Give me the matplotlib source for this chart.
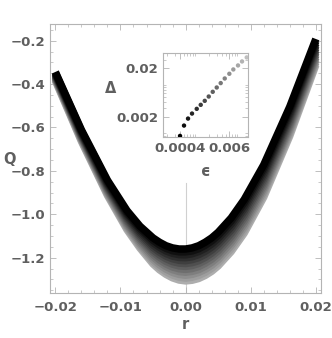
import matplotlib
matplotlib.use('Agg')
import matplotlib.pyplot as plt
from matplotlib.ticker import MultipleLocator, FixedLocator, NullFormatter

# r samples shared by every curve
r_vals = [-0.02, -0.016, -0.012, -0.009, -0.007, -0.005, -0.004, -0.003, -0.002, -0.001, 0.0,
          0.001, 0.002, 0.003, 0.004, 0.005, 0.007, 0.009, 0.012, 0.016, 0.02]

# Q of the 12 curves (darkest/top first) at each r sample
q_at_r = [
    [-0.344, -0.348, -0.351, -0.355, -0.358, -0.362, -0.366, -0.369, -0.373, -0.376, -0.380, -0.384],
    [-0.611, -0.616, -0.621, -0.625, -0.630, -0.635, -0.640, -0.645, -0.649, -0.654, -0.659, -0.664],
    [-0.843, -0.849, -0.856, -0.862, -0.869, -0.875, -0.881, -0.888, -0.894, -0.901, -0.907, -0.913],
    [-0.983, -0.991, -0.999, -1.007, -1.015, -1.023, -1.031, -1.039, -1.047, -1.055, -1.063, -1.071],
    [-1.055, -1.064, -1.073, -1.083, -1.092, -1.101, -1.110, -1.119, -1.129, -1.138, -1.147, -1.156],
    [-1.109, -1.120, -1.131, -1.142, -1.153, -1.164, -1.174, -1.185, -1.196, -1.207, -1.218, -1.229],
    [-1.129, -1.141, -1.152, -1.164, -1.175, -1.187, -1.198, -1.210, -1.221, -1.233, -1.244, -1.256],
    [-1.145, -1.157, -1.169, -1.181, -1.193, -1.205, -1.217, -1.229, -1.241, -1.253, -1.265, -1.277],
    [-1.155, -1.168, -1.180, -1.193, -1.205, -1.218, -1.230, -1.243, -1.255, -1.268, -1.280, -1.293],
    [-1.160, -1.173, -1.186, -1.199, -1.212, -1.225, -1.238, -1.251, -1.264, -1.277, -1.290, -1.303],
    [-1.160, -1.173, -1.187, -1.200, -1.214, -1.227, -1.240, -1.254, -1.267, -1.281, -1.294, -1.307],
    [-1.155, -1.169, -1.182, -1.196, -1.209, -1.223, -1.236, -1.250, -1.263, -1.277, -1.290, -1.304],
    [-1.145, -1.159, -1.172, -1.186, -1.200, -1.214, -1.227, -1.241, -1.255, -1.268, -1.282, -1.296],
    [-1.129, -1.143, -1.157, -1.171, -1.185, -1.199, -1.212, -1.226, -1.240, -1.254, -1.268, -1.282],
    [-1.109, -1.123, -1.137, -1.151, -1.165, -1.179, -1.193, -1.207, -1.221, -1.235, -1.249, -1.263],
    [-1.083, -1.097, -1.111, -1.125, -1.139, -1.154, -1.168, -1.182, -1.196, -1.210, -1.224, -1.238],
    [-1.017, -1.031, -1.045, -1.059, -1.073, -1.088, -1.102, -1.116, -1.130, -1.144, -1.158, -1.172],
    [-0.932, -0.946, -0.960, -0.974, -0.988, -1.003, -1.017, -1.031, -1.045, -1.059, -1.073, -1.087],
    [-0.772, -0.786, -0.799, -0.813, -0.826, -0.840, -0.853, -0.867, -0.880, -0.894, -0.907, -0.921],
    [-0.504, -0.516, -0.529, -0.541, -0.553, -0.566, -0.578, -0.590, -0.602, -0.615, -0.627, -0.639],
    [-0.192, -0.203, -0.214, -0.225, -0.236, -0.247, -0.257, -0.268, -0.279, -0.290, -0.301, -0.312],
]

# inset: Delta vs epsilon (log-log)
eps_vals = [0.00040, 0.000498, 0.000621, 0.000773, 0.001002, 0.001248, 0.001556,
            0.001937, 0.002415, 0.003006, 0.003742, 0.004667, 0.006012, 0.007485,
            0.009683, 0.01208, 0.01563]
delta_vals = [0.000798, 0.001304, 0.001818, 0.002306, 0.002884, 0.003488, 0.004218,
              0.005176, 0.006476, 0.007946, 0.009796, 0.01219, 0.01524, 0.01871,
              0.02264, 0.02736, 0.03311]

x_ticks = [-0.02, -0.01, 0.0, 0.01, 0.02]
y_ticks = [-1.2, -1.0, -0.8, -0.6, -0.4, -0.2]

frame_col = '#b4b4b4'
text_col = '#5f5f5f'
fsize = 9.5


def style_frame(ax):
    for s in ax.spines.values():
        s.set_color(frame_col)
        s.set_linewidth(0.8)
    ax.tick_params(which='both', direction='in', color=frame_col,
                   top=True, right=True, labelcolor=text_col, labelsize=fsize)
    ax.tick_params(which='major', length=4, width=0.6)
    ax.tick_params(which='minor', length=2, width=0.5)
    for lab in ax.get_xticklabels() + ax.get_yticklabels():
        lab.set_fontweight('bold')


fig = plt.figure(figsize=(3.32, 3.38), dpi=100)
ax = fig.add_axes([0.151, 0.133, 0.816, 0.796])

ax.axvline(0.0, ymin=0.0, ymax=0.41, color='#d0d0d0', linewidth=0.8, zorder=0)

curves = list(zip(*q_at_r))
n = len(curves)
for i in range(n - 1, -1, -1):
    g = 0.68 * i / (n - 1)
    ax.plot(r_vals, curves[i], color=(g, g, g), linewidth=5.4,
            solid_capstyle='butt', solid_joinstyle='round')

ax.set_xlim(-0.0208, 0.0208)
ax.set_ylim(-1.363, -0.123)
ax.xaxis.set_major_locator(FixedLocator(x_ticks))
ax.yaxis.set_major_locator(FixedLocator(y_ticks))
ax.xaxis.set_minor_locator(MultipleLocator(0.002))
ax.yaxis.set_minor_locator(MultipleLocator(0.05))
ax.set_xticklabels(['\u22120.02', '\u22120.01', '0.00', '0.01', '0.02'])
ax.set_yticklabels(['\u22121.2', '\u22121.0', '\u22120.8', '\u22120.6', '\u22120.4', '\u22120.2'])
style_frame(ax)
ax.tick_params(axis='x', which='major', pad=6)
ax.set_xlabel('r', fontsize=10.5, fontweight='bold', color=text_col, labelpad=2)
ax.set_ylabel('Q', fontsize=10.5, fontweight='bold', color=text_col, rotation=0)
ax.yaxis.set_label_coords(-0.15, 0.47)

# inset
ins = fig.add_axes([0.491, 0.595, 0.256, 0.249])
ins.set_xscale('log')
ins.set_yscale('log')
n_pts = len(eps_vals)
pt_cols = [(0.75 * k / (n_pts - 1),) * 3 for k in range(n_pts)]
ins.scatter(eps_vals, delta_vals, s=10, c=pt_cols, linewidths=0, zorder=3)
ins.set_xlim(0.000157, 0.01677)
ins.set_ylim(0.000762, 0.0414)
ins.xaxis.set_major_locator(FixedLocator([0.0004, 0.006]))
ins.yaxis.set_major_locator(FixedLocator([0.002, 0.02]))
ins.xaxis.set_minor_formatter(NullFormatter())
ins.yaxis.set_minor_formatter(NullFormatter())
ins.set_xticklabels(['0.0004', '0.006'])
ins.set_yticklabels(['0.002', '0.02'])
style_frame(ins)
ins.set_xlabel('\u03f5', fontsize=10.5, fontweight='bold', color=text_col, labelpad=7)
ins.set_ylabel('\u0394', fontsize=10.5, fontweight='bold', color=text_col, rotation=0)
ins.yaxis.set_label_coords(-0.62, 0.48)

fig.savefig('out.png', dpi=100)
